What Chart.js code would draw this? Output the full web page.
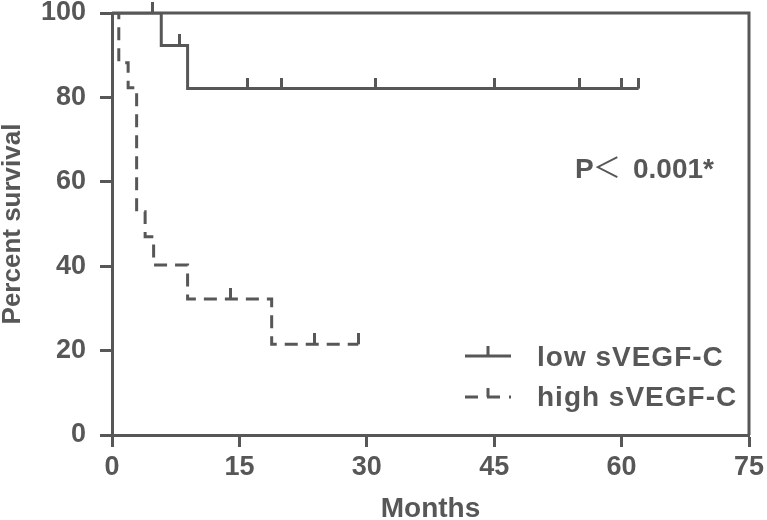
<!DOCTYPE html>
<html>
<head>
<meta charset="utf-8">
<script src="https://cdn.jsdelivr.net/npm/chart.js@4"></script>
<style>
  html, body { margin: 0; padding: 0; background: #fff; }
  #km { display: block; }
</style>
</head>
<body>
<canvas id="km" width="767" height="520"></canvas>
<script>
// survival steps (months, percent)
const lowTimes = [0, 5.8, 8.9, 62];
const lowSurv = [100, 92.3, 82.1, 82.1];
const lowCensorTimes = [4.8, 7.9, 15.9, 19.9, 31, 45, 55.1, 60, 62];
const lowCensorSurv = [100, 92.3, 82.1, 82.1, 82.1, 82.1, 82.1, 82.1, 82.1];

const highTimes = [0, 0.8, 1.9, 2.9, 3.9, 4.9, 8.9, 18.8, 29];
const highSurv = [100, 88.2, 82.3, 52.9, 47.0, 40.3, 32.2, 21.5, 21.5];
const highCensorTimes = [13.9, 23.9, 29];
const highCensorSurv = [32.2, 21.5, 21.5];

const xTicks = [0, 15, 30, 45, 60, 75];
const yTicks = [0, 20, 40, 60, 80, 100];

const GREY = '#575757';
const FONT = "'Liberation Sans', Arial, sans-serif";

function pts(xs, ys) {
    return xs.map((x, i) => ({ x: x, y: ys[i] }));
}

// little upward tick used for censored cases
function censorMark() {
    const c = document.createElement('canvas');
    c.width = 3;
    c.height = 22;
    const g = c.getContext('2d');
    g.fillStyle = GREY;
    g.fillRect(0, 0, 3, 11);
    return c;
}
const mark = censorMark();

function noPad(s) {
    s.paddingTop = 0;
    s.paddingBottom = 0;
    s.paddingLeft = 0;
    s.paddingRight = 0;
}

const frame = {
    id: 'frame',
    beforeDatasetsDraw(chart) {
        const { ctx, chartArea: a } = chart;
        ctx.save();
        ctx.strokeStyle = GREY;
        ctx.lineWidth = 3;
        ctx.beginPath();
        ctx.moveTo(a.left, a.top);
        ctx.lineTo(a.right, a.top);
        ctx.lineTo(a.right, a.bottom);
        ctx.stroke();
        ctx.restore();
    }
};

const notes = {
    id: 'notes',
    afterDraw(chart) {
        const ctx = chart.ctx;
        ctx.save();
        ctx.strokeStyle = GREY;
        ctx.fillStyle = GREY;
        ctx.lineWidth = 3;

        // legend symbols
        ctx.beginPath();
        ctx.moveTo(465, 356);
        ctx.lineTo(511, 356);
        ctx.moveTo(488, 356);
        ctx.lineTo(488, 346);
        ctx.stroke();

        ctx.setLineDash([13, 9]);
        ctx.beginPath();
        ctx.moveTo(465, 397);
        ctx.lineTo(511, 397);
        ctx.stroke();
        ctx.setLineDash([]);
        ctx.beginPath();
        ctx.moveTo(488, 397);
        ctx.lineTo(488, 388);
        ctx.stroke();

        ctx.textBaseline = 'alphabetic';
        ctx.textAlign = 'left';
        ctx.font = 'bold 28px ' + FONT;
        ctx.letterSpacing = '1px';
        ctx.fillText('low sVEGF-C', 537, 366);
        ctx.fillText('high sVEGF-C', 537, 406);
        ctx.letterSpacing = '0px';

        // p value
        ctx.font = 'bold 28px ' + FONT;
        ctx.fillText('P', 575, 178);
        ctx.font = "28px 'Noto Sans CJK SC'";
        ctx.fillText('＜', 593, 178);
        ctx.font = 'bold 28px ' + FONT;
        ctx.fillText('0.001*', 633, 178);
        ctx.restore();
    }
};

new Chart(document.getElementById('km').getContext('2d'), {
    type: 'scatter',
    data: {
        datasets: [{
            label: 'low sVEGF-C',
            data: pts(lowTimes, lowSurv),
            showLine: true,
            stepped: 'before',
            borderColor: GREY,
            borderWidth: 3,
            pointRadius: 0
        }, {
            label: 'high sVEGF-C',
            data: pts(highTimes, highSurv),
            showLine: true,
            stepped: 'before',
            borderColor: GREY,
            borderWidth: 3,
            borderDash: [13, 8],
            pointRadius: 0
        }, {
            label: 'low censored',
            data: pts(lowCensorTimes, lowCensorSurv),
            showLine: false,
            pointStyle: mark,
            pointRadius: 5,
            clip: false
        }, {
            label: 'high censored',
            data: pts(highCensorTimes, highCensorSurv),
            showLine: false,
            pointStyle: mark,
            pointRadius: 5,
            clip: false
        }]
    },
    options: {
        responsive: false,
        animation: false,
        layout: {
            padding: { top: 13, right: 18, left: 0, bottom: 0 }
        },
        plugins: {
            legend: { display: false },
            tooltip: { enabled: false }
        },
        scales: {
            x: {
                type: 'linear',
                min: 0,
                max: 75,
                afterBuildTicks: s => { s.ticks = xTicks.map(v => ({ value: v })); },
                afterFit: s => { s.height = 85; noPad(s); },
                ticks: {
                    color: GREY,
                    padding: 4,
                    font: { family: FONT, size: 27, weight: 'bold' }
                },
                grid: {
                    drawOnChartArea: false,
                    tickLength: 12,
                    tickWidth: 3,
                    tickColor: GREY
                },
                border: { color: GREY, width: 3 },
                title: {
                    display: true,
                    text: 'Months',
                    color: GREY,
                    padding: { top: 0, bottom: 2 },
                    font: { family: FONT, size: 28, weight: 'bold', lineHeight: 0.6 }
                }
            },
            y: {
                min: 0,
                max: 100,
                afterBuildTicks: s => { s.ticks = yTicks.map(v => ({ value: v })); },
                afterFit: s => { s.width = 112; noPad(s); },
                ticks: {
                    color: GREY,
                    padding: 14,
                    font: { family: FONT, size: 27, weight: 'bold' }
                },
                grid: {
                    drawOnChartArea: false,
                    tickLength: 12,
                    tickWidth: 3,
                    tickColor: GREY
                },
                border: { color: GREY, width: 3 },
                title: {
                    display: true,
                    text: 'Percent survival',
                    color: GREY,
                    padding: 0,
                    font: { family: FONT, size: 26, weight: 'bold', lineHeight: 1 }
                }
            }
        }
    },
    plugins: [frame, notes]
});
</script>
</body>
</html>
